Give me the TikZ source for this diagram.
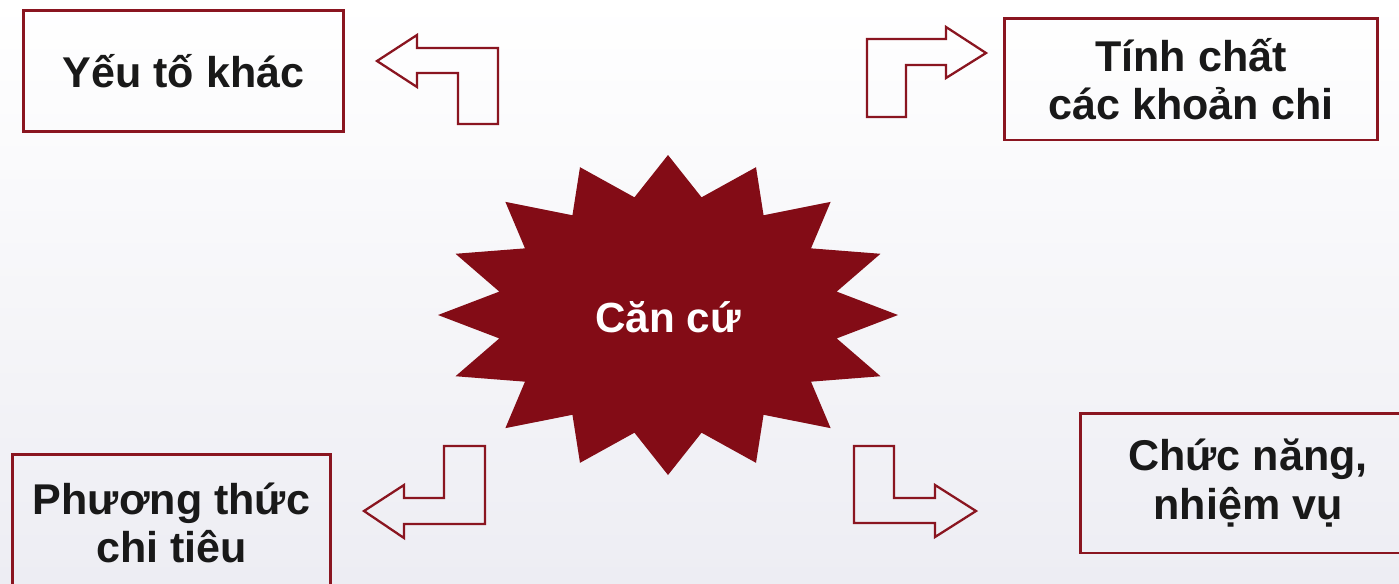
\documentclass[tikz,border=0pt]{standalone}
\usepackage{fontspec}
\setmainfont{Liberation Sans}
\usepackage{xcolor}
\usepackage{tikz}

\definecolor{cancured}{HTML}{830C16}
\definecolor{framered}{HTML}{8A1520}
\definecolor{bgbottom}{HTML}{EDEDF3}

\begin{document}
\begin{tikzpicture}[
        x=0.02cm, y=-0.02cm,
        factor/.style={rectangle, draw=framered, line width=1.7pt, inner sep=0pt, align=center, text=black!90, font=\bfseries\fontsize{24.5}{27.5}\selectfont},
        bentarrow/.style={draw=framered, line width=1.3pt, line join=miter, fill=none},
        burst/.style={fill=cancured},
        centre/.style={text=white, font=\bfseries\fontsize{24}{26}\selectfont}
    ]

    \useasboundingbox (0,0) rectangle (1399,583);
    \shade[top color=white, bottom color=bgbottom] (0,0) rectangle (1399,583);

    % central burst
    \fill[burst, shift={(668,315)}] (0,-160)
        \foreach \k in {1,...,31} { -- ({(isodd(\k) ? 172 : 230)*sin(\k*11.25)}, {-(isodd(\k) ? 120 : 160)*cos(\k*11.25)}) } -- cycle;
    \node [centre] (cancu) at (668,317) {Căn cứ};

    % four factors
    \node [factor, minimum width=6.42cm, minimum height=2.42cm] (khac) at (183.5,71) {Yếu tố khác};
    \node [factor, minimum width=7.48cm, minimum height=2.44cm] (tinhchat) at (1191,79) {Tính chất\\các khoản chi};
    \node [factor, minimum width=6.38cm, minimum height=2.76cm] (phuongthuc) at (171.5,523) {Phương thức\\chi tiêu};
    \node [factor, minimum width=6.72cm, minimum height=2.80cm] (chucnang) at (1248,483) {Chức năng,\\nhiệm vụ};

    % bent block arrows
    \draw [bentarrow] (377,61) -- (417,35) -- (417,48) -- (498,48) -- (498,124) -- (458,124) -- (458,73) -- (417,73) -- (417,87) -- cycle;
    \draw [bentarrow] (867,39) -- (946,39) -- (946,27) -- (986,53) -- (946,78) -- (946,65) -- (906,65) -- (906,117) -- (867,117) -- cycle;
    \draw [bentarrow] (444,446) -- (485,446) -- (485,524) -- (404,524) -- (404,538) -- (364,511) -- (404,485) -- (404,498) -- (444,498) -- cycle;
    \draw [bentarrow] (854,446) -- (894,446) -- (894,498) -- (935,498) -- (935,485) -- (976,511) -- (935,537) -- (935,523) -- (854,523) -- cycle;

\end{tikzpicture}
\end{document}
